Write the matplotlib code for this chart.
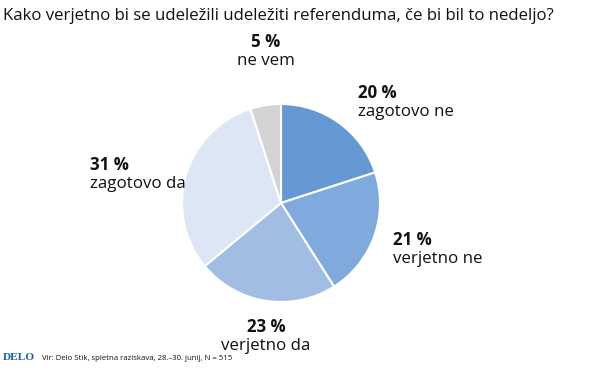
import matplotlib
matplotlib.use("Agg")
import matplotlib.pyplot as plt

title = "Kako verjetno bi se udeležili udeležiti referenduma, če bi bil to nedeljo?"
categories = ["zagotovo ne", "verjetno ne", "verjetno da", "zagotovo da", "ne vem"]
values = [20, 21, 23, 31, 5]
colors = ["#6699d3", "#80a9dd", "#a1bde4", "#dce6f5", "#d3d3d3"]
source = "Vir: Delo Stik, spletna raziskava, 28.–30. junij, N = 515"

W, H = 600, 373
fig = plt.figure(figsize=(W / 100, H / 100), dpi=100)
fig.patch.set_facecolor("white")

cx, cy, r = 281, 203, 99
ax = fig.add_axes([(cx - r) / W, 1 - (cy + r) / H, 2 * r / W, 2 * r / H])
ax.pie(values, colors=colors, startangle=90, counterclock=False,
       wedgeprops=dict(edgecolor="white", linewidth=1.5))
ax.set_aspect("equal")
ax.set_xlim(-1, 1)
ax.set_ylim(-1, 1)
ax.axis("off")

def px(x, y):
    return x / W, 1 - y / H

fig.text(*px(3, 16), title, fontsize=12.05, color="#111111", va="center", ha="left",
         family="Open Sans")

# label positions (pixels)
label_pos = [(358, 93, "left"), (393, 240, "left"), (266, 327, "center"),
             (90, 165, "left"), (266, 42, "center")]
for (x, y, ha), cat, v in zip(label_pos, categories, values):
    fig.text(*px(x, y), f"{v} %", fontsize=12.2, fontweight="bold", ha=ha, va="center",
             color="#111111", family="Open Sans")
    fig.text(*px(x, y + 19), cat, fontsize=12.2, ha=ha, va="center",
             color="#111111", family="Open Sans")

fig.text(*px(3, 358), "DELO", fontsize=8.2, fontweight="bold", color="#1f5ea8",
         family="Liberation Serif", va="center", ha="left")
fig.text(*px(42, 358), source, fontsize=5.6, color="#111111", va="center", ha="left",
         family="Open Sans")

fig.savefig("out.png", dpi=100)
